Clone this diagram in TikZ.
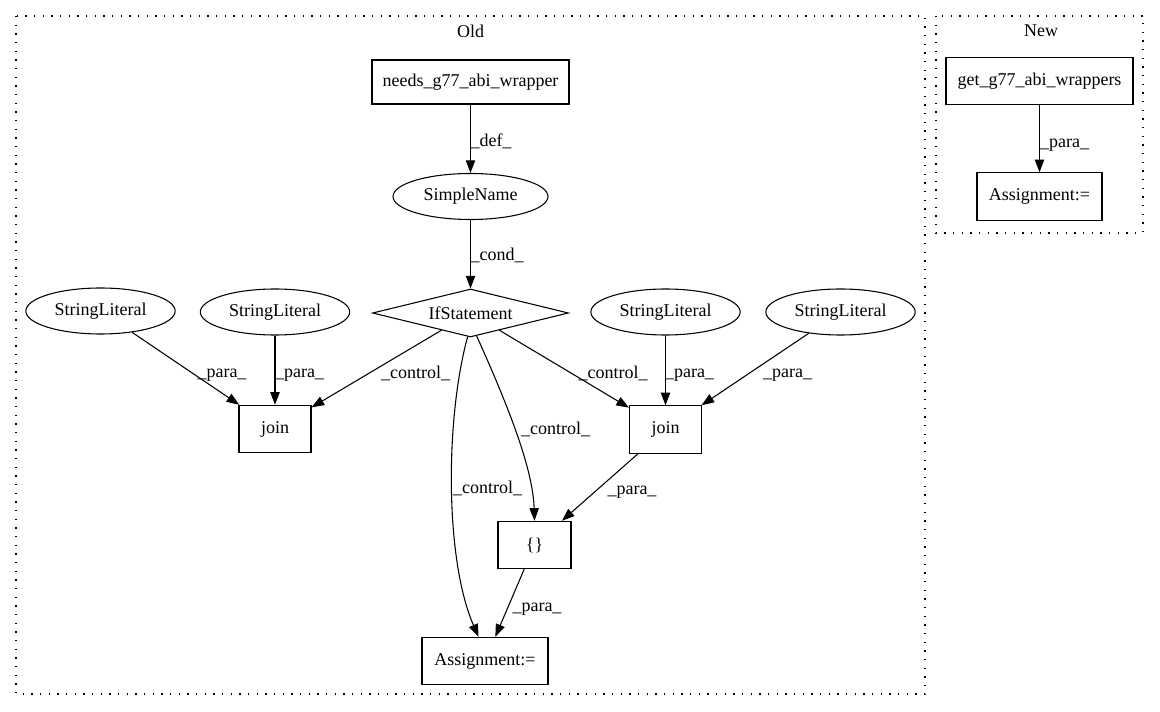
\documentclass[tikz,border=0pt]{standalone}
\usepackage{fontspec}
\setmainfont{Liberation Serif}
\usetikzlibrary{shapes.geometric,arrows.meta}
\begin{document}
\begin{tikzpicture}[x=0.75pt,y=-0.75pt,
  font=\fontsize{13.5}{16}\selectfont,
  box/.style={draw, rectangle, inner sep=0pt, minimum height=35.5pt, line width=0.8pt},
  ell/.style={draw, ellipse, inner sep=0pt, minimum height=34.5pt, line width=0.8pt},
  dia/.style={draw, diamond, aspect=4, inner sep=0pt, minimum width=147pt, minimum height=36pt, line width=0.8pt},
  edge/.style={draw, line width=0.8pt, -{Triangle[length=9.5pt,width=7pt]}},
  lbl/.style={inner sep=0pt},
  cluster/.style={draw, line width=1pt, dash pattern=on 1pt off 5.5pt}]
\useasboundingbox (0,0) rectangle (1160,712);
% clusters
\draw[cluster] (16,16) rectangle (925,694);
\node[lbl] (oldtitle) at (470.5,31) {Old};
\draw[cluster] (936,16) rectangle (1143,233);
\node[lbl] (newtitle) at (1041,31) {New};
% Old nodes
\node[box, minimum width=147.75pt, minimum height=33pt] (needs) at (470.5,82) {needs\_g77\_abi\_wrapper};
\node[ell, minimum width=116.25pt] (sname) at (470.5,196.5) {SimpleName};
\node[dia] (if) at (470.5,313) {IfStatement};
\node[ell, minimum width=112pt] (sl1) at (100.5,311) {StringLiteral};
\node[ell, minimum width=112pt] (sl2) at (275,312) {StringLiteral};
\node[ell, minimum width=112pt] (sl3) at (665.5,312) {StringLiteral};
\node[ell, minimum width=112pt] (sl4) at (840.5,312) {StringLiteral};
\node[box, minimum width=54pt] (join1) at (275,429) {join};
\node[box, minimum width=54pt] (join2) at (665.5,429.5) {join};
\node[box, minimum width=54.75pt] (brace) at (534.5,545) {\{\}};
\node[box, minimum width=94.5pt] (assignO) at (485,661) {Assignment:=};
% New nodes
\node[box, minimum width=140.25pt] (get) at (1039.5,81) {get\_g77\_abi\_wrappers};
\node[box, minimum width=93.75pt] (assignN) at (1039.5,196.5) {Assignment:=};
% Old edges
\draw[edge] (needs) -- (sname) node[lbl, at={(491,141)}] {\_def\_};
\draw[edge] (sname) -- (if) node[lbl, at={(497,255)}] {\_cond\_};
\draw[edge] (sl1) -- (join1) node[lbl, at={(222,375)}] {\_para\_};
\draw[edge] (sl2) -- (join1) node[lbl, at={(299.5,375)}] {\_para\_};
\draw[edge] (if) -- (join1) node[lbl, at={(415.5,373)}] {\_control\_};
\draw[edge] (if) -- (join2) node[lbl, at={(613,373)}] {\_control\_};
\draw[edge] (sl3) -- (join2) node[lbl, at={(689.5,375)}] {\_para\_};
\draw[edge] (sl4) -- (join2) node[lbl, at={(787.5,375)}] {\_para\_};
\draw[edge] (if.-75) .. controls (510,410) and (533,470) .. (brace.north)
  node[lbl, at={(555.5,429)}] {\_control\_};
\draw[edge] (if.-97) .. controls (445,420) and (445,560) .. (assignO.105)
  node[lbl, at={(487.5,488)}] {\_control\_};
\draw[edge] (join2) -- (brace) node[lbl, at={(632,492)}] {\_para\_};
\draw[edge] (brace) -- (assignO) node[lbl, at={(537,609)}] {\_para\_};
% New edge
\draw[edge] (get) -- (assignN) node[lbl, at={(1064.5,145)}] {\_para\_};
\end{tikzpicture}
\end{document}
